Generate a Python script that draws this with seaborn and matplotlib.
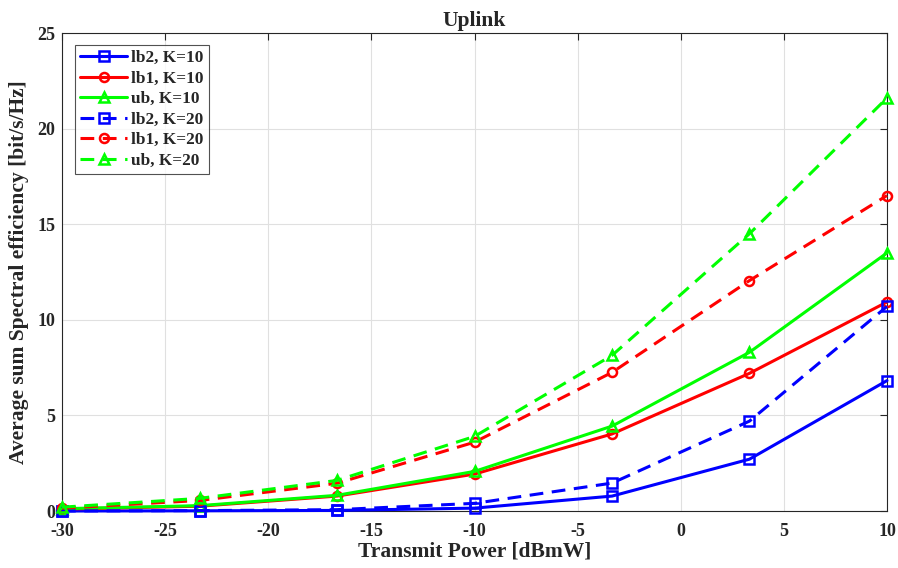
import numpy as np
import pandas as pd
import seaborn as sns
import matplotlib
matplotlib.use("Agg")
import matplotlib.pyplot as plt

power = [-30, -23.33, -16.67, -10, -3.33, 3.33, 10]
lb2_k10 = [0.0, 0.01, 0.03, 0.15, 0.78, 2.71, 6.82]
lb1_k10 = [0.10, 0.25, 0.78, 1.93, 4.03, 7.20, 10.93]
ub_k10 = [0.12, 0.28, 0.82, 2.07, 4.44, 8.30, 13.50]
lb2_k20 = [0.0, 0.02, 0.07, 0.40, 1.46, 4.70, 10.70]
lb1_k20 = [0.15, 0.55, 1.45, 3.60, 7.25, 12.05, 16.50]
ub_k20 = [0.20, 0.66, 1.60, 3.90, 8.14, 14.50, 21.60]

series = [
    ("lb2, K=10", lb2_k10, "#0000ff", "-", "s"),
    ("lb1, K=10", lb1_k10, "#ff0000", "-", "o"),
    ("ub, K=10", ub_k10, "#00ff00", "-", "^"),
    ("lb2, K=20", lb2_k20, "#0000ff", (0, (4.5, 2.8)), "s"),
    ("lb1, K=20", lb1_k20, "#ff0000", (0, (4.5, 2.8)), "o"),
    ("ub, K=20", ub_k20, "#00ff00", (0, (4.5, 2.8)), "^"),
]

sns.set_style("white")
plt.rcParams['font.family'] = ['Liberation Serif', 'DejaVu Serif']
plt.rcParams['font.weight'] = 'bold'
plt.rcParams['axes.unicode_minus'] = False

fig = plt.figure(figsize=(8.98, 5.68), dpi=100)
ax = fig.add_axes([62/898, 57/568, 825/898, 478/568])

for name, vals, col, ls, mk in series:
    df = pd.DataFrame({"x": power, "y": vals})
    sns.lineplot(data=df, x="x", y="y", ax=ax, color=col, linestyle=ls,
                 marker=mk, markersize=6.5, markerfacecolor="none",
                 markeredgecolor=col, markeredgewidth=1.8, linewidth=2.2,
                 label=name, clip_on=False, zorder=3)

ax.set_xlim(-30, 10)
ax.set_ylim(0, 25)
ax.set_xticks([-30, -25, -20, -15, -10, -5, 0, 5, 10])
ax.set_yticks([0, 5, 10, 15, 20, 25])
ax.grid(True, color="#e0e0e0", linewidth=0.8)
ax.tick_params(direction="in", labelsize=13, length=5, top=True, right=True,
               color="#262626")
ax.tick_params(axis="x", pad=9)
ax.tick_params(axis="y", pad=5)
for lab in ax.get_xticklabels() + ax.get_yticklabels():
    lab.set_fontweight("bold")
for s in ax.spines.values():
    s.set_color("#262626")
    s.set_linewidth(0.8)
ax.set_xlabel("Transmit Power [dBmW]", fontsize=15.5, fontweight="bold", labelpad=1)
ax.set_ylabel("Average sum Spectral efficiency [bit/s/Hz]", fontsize=15.5, fontweight="bold")
ax.yaxis.set_label_coords(-0.040, 0.5)
ax.set_title("Uplink", fontsize=15.5, fontweight="bold", pad=5)

leg = ax.legend(loc="upper left", bbox_to_anchor=(0.016, 0.975), fontsize=12.4,
                frameon=True, fancybox=False, edgecolor="#262626",
                handlelength=2.7, borderpad=0.3, labelspacing=0.26, handletextpad=0.25,
                borderaxespad=0.0)
leg.get_frame().set_linewidth(0.8)
for t in leg.get_texts():
    t.set_fontweight("bold")

fig.savefig("out.png", dpi=100)
